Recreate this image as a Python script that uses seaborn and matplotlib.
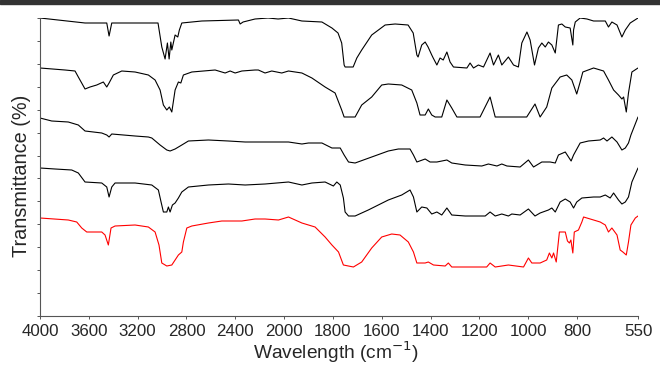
import numpy as np
import pandas as pd
import matplotlib
matplotlib.use("Agg")
import matplotlib.pyplot as plt
import seaborn as sns
from matplotlib.patches import Rectangle

# FTIR spectra, stacked top to bottom (offset transmittance, arbitrary units)
wn_a = [4000, 3631, 3453, 3434, 3412, 3033, 3002, 2975, 2956, 2942, 2928, 2920, 2893, 2871, 2858, 2838,
        2674, 2374, 2360, 2336, 2238, 2131, 2049, 1982, 1927, 1845, 1804, 1779, 1764, 1754, 1750, 1717,
        1702, 1682, 1641, 1586, 1545, 1492, 1471, 1456, 1451, 1436, 1422, 1410, 1395, 1389, 1374, 1361,
        1348, 1333, 1320, 1306, 1251, 1238, 1224, 1204, 1183, 1156, 1142, 1122, 1108, 1081, 1060, 1040,
        1026, 1005, 992, 974, 958, 944, 930, 917, 903, 889, 876, 862, 848, 828, 817, 814, 807, 787, 759,
        732, 684, 671, 657, 636, 616, 602, 582, 550]
t_a = [298, 293, 293, 280, 293, 293, 269, 257, 273, 257, 274, 266, 281, 279, 286, 293,
       295, 296, 292, 294, 297, 298, 297, 298, 295, 294, 288, 283, 273, 251, 249, 249,
       258, 266, 281, 291, 292, 291, 283, 261, 259, 271, 274, 269, 261, 258, 251, 258,
       256, 264, 254, 249, 248, 253, 248, 251, 249, 263, 251, 261, 251, 259, 251, 249,
       273, 284, 276, 251, 268, 273, 269, 274, 271, 263, 291, 292, 289, 288, 271, 286, 294, 298, 297,
       295, 295, 289, 294, 291, 279, 286, 293, 298]

wn_b = [4000, 3795, 3713, 3686, 3631, 3590, 3535, 3481, 3453, 3434, 3399, 3330, 3221, 3112, 3057, 3016,
        2989, 2961, 2940, 2920, 2893, 2866, 2846, 2825, 2756, 2565, 2483, 2442, 2401, 2346, 2238, 2211,
        2156, 2101, 2019, 1982, 1927, 1886, 1832, 1791, 1764, 1754, 1709, 1682, 1641, 1600, 1573, 1518,
        1477, 1456, 1443, 1422, 1409, 1395, 1381, 1354, 1333, 1313, 1292, 1197, 1156, 1135, 1006, 972,
        951, 924, 903, 869, 842, 821, 801, 787, 776, 732, 691, 671, 650, 630, 616, 609, 598, 589, 575, 550]
t_b = [248, 246, 245, 239, 227, 229, 231, 234, 229, 233, 241, 245, 244, 241, 236, 226,
       211, 206, 209, 204, 226, 234, 233, 241, 244, 246, 243, 245, 243, 245, 246, 246,
       243, 245, 243, 245, 243, 238, 229, 223, 206, 199, 199, 211, 219, 231, 232, 231,
       226, 213, 201, 201, 207, 201, 199, 199, 216, 208, 199, 199, 219, 199, 199, 212,
       199, 209, 228, 239, 241, 236, 222, 234, 244, 248, 245, 236, 226, 221, 217, 219, 204, 223, 244, 248]

wn_c = [4000, 3904, 3768, 3686, 3631, 3494, 3453, 3434, 3412, 3221, 3112, 3084, 3016, 2961, 2934, 2893,
        2838, 2784, 2620, 2456, 2319, 2238, 2046, 1982, 1927, 1900, 1845, 1804, 1770, 1754, 1736, 1709,
        1641, 1573, 1532, 1484, 1470, 1456, 1422, 1402, 1374, 1333, 1313, 1258, 1190, 1163, 1128, 1108,
        1087, 1033, 999, 978, 944, 910, 889, 876, 848, 824, 814, 787, 753, 705, 691, 677, 657, 636, 616,
        602, 589, 579, 550]
t_c = [198, 195, 194, 191, 185, 183, 181, 179, 182, 180, 179, 178, 171, 166, 165, 167,
       171, 175, 176, 175, 174, 174, 174, 174, 172, 173, 173, 168, 168, 161, 154, 153,
       159, 165, 167, 167, 161, 154, 157, 154, 154, 156, 153, 151, 150, 152, 150, 152,
       150, 149, 156, 149, 154, 154, 153, 161, 164, 155, 161, 173, 175, 176, 178, 175, 179, 174, 166,
       168, 173, 181, 199]

wn_d = [4000, 3877, 3740, 3686, 3631, 3494, 3453, 3434, 3412, 3385, 3221, 3084, 3030, 3008, 2989, 2961,
        2948, 2934, 2915, 2893, 2866, 2838, 2784, 2620, 2456, 2319, 2156, 1982, 1927, 1886, 1832, 1798,
        1784, 1770, 1757, 1750, 1736, 1709, 1655, 1573, 1518, 1484, 1470, 1456, 1436, 1415, 1395, 1374,
        1354, 1333, 1313, 1258, 1176, 1156, 1135, 1108, 1081, 1067, 1033, 999, 972, 951, 917, 903, 889,
        869, 848, 828, 814, 801, 780, 732, 705, 684, 664, 650, 630, 616, 602, 589, 575, 550]
t_d = [148, 147, 146, 143, 134, 133, 129, 119, 129, 133, 133, 131, 126, 114, 104, 104,
       109, 104, 111, 113, 118, 124, 129, 131, 132, 131, 132, 134, 131, 133, 134, 130,
       134, 131, 118, 104, 100, 100, 106, 116, 121, 126, 119, 104, 109, 108, 102, 104,
       101, 108, 101, 100, 100, 104, 100, 102, 100, 102, 101, 107, 100, 103, 106, 108, 104,
       114, 117, 114, 108, 114, 118, 119, 119, 121, 118, 123, 116, 112, 114, 119, 134, 148]

wn_e = [4000, 3768, 3699, 3658, 3617, 3494, 3467, 3440, 3418, 3385, 3221, 3112, 3057, 3025, 3002, 2961,
        2920, 2893, 2866, 2838, 2825, 2797, 2756, 2620, 2510, 2346, 2238, 2156, 2046, 1982, 1927, 1873,
        1832, 1804, 1777, 1757, 1716, 1682, 1641, 1600, 1559, 1525, 1491, 1470, 1456, 1422, 1409, 1388,
        1340, 1327, 1313, 1170, 1156, 1135, 1081, 1019, 999, 985, 951, 924, 913, 903, 896, 885, 872,
        848, 839, 831, 825, 817, 811, 794, 780, 773, 732, 705, 684, 671, 657, 636, 623, 612, 598, 589,
        579, 561, 550]
t_e = [98, 96, 94, 88, 84, 84, 81, 71, 88, 90, 91, 89, 84, 71, 53, 50,
       51, 56, 61, 64, 74, 88, 90, 93, 95, 95, 97, 97, 96, 99, 93, 89,
       79, 71, 64, 51, 49, 54, 68, 79, 82, 81, 74, 64, 53, 53, 54, 51,
       50, 53, 49, 49, 53, 49, 51, 49, 58, 53, 53, 56, 63, 58, 63, 54, 84,
       84, 75, 73, 76, 63, 84, 86, 94, 99, 96, 94, 91, 84, 88, 81, 66, 64, 61, 74,
       91, 98, 100]

names = ["a", "b", "c", "d", "e"]
colors = ["black", "black", "black", "black", "red"]
tick_wn = [4000, 3600, 3200, 2800, 2400, 2000, 1800, 1600, 1400, 1200, 1000, 800, 550]

frames = []
for name, wn, t in zip(names, [wn_a, wn_b, wn_c, wn_d, wn_e], [t_a, t_b, t_c, t_d, t_e]):
    frames.append(pd.DataFrame({"wn": wn, "T": t, "sample": name}))
df = pd.concat(frames, ignore_index=True)

sns.set_style("ticks")
plt.rcParams["font.family"] = ["Liberation Sans", "DejaVu Sans"]


# split wavenumber axis: 400 cm-1 per tick above 2000, 200 cm-1 per tick below
def fwd(x):
    x = np.asarray(x, dtype=float)
    return np.where(x <= 2000, x / 200.0, 10 + (x - 2000) / 400.0)


def inv(p):
    p = np.asarray(p, dtype=float)
    return np.where(p <= 10, p * 200.0, 2000 + (p - 10) * 400.0)


fig = plt.figure(figsize=(6.6, 3.67), dpi=100)
ax = fig.add_axes([40 / 660, 51 / 367, 598 / 660, 298 / 367])

sns.lineplot(data=df, x="wn", y="T", hue="sample", palette=dict(zip(names, colors)),
             estimator=None, linewidth=0.8, legend=False, ax=ax)

ax.set_xscale("function", functions=(fwd, inv))
ax.set_xlim(4000, 550)
ax.set_ylim(0, 298)
ax.set_xticks(tick_wn)
ax.set_xticklabels([str(v) for v in tick_wn])
ax.xaxis.set_minor_locator(matplotlib.ticker.NullLocator())
ax.set_yticks(np.linspace(0, 298, 14))
ax.set_yticklabels([])

for side in ["top", "right"]:
    ax.spines[side].set_visible(False)
for side in ["left", "bottom"]:
    ax.spines[side].set_color("#555555")
    ax.spines[side].set_linewidth(0.8)
ax.tick_params(axis="both", direction="out", length=2.5, width=0.7, color="#555555",
               labelsize=12.2, pad=3)

ax.set_xlabel("Wavelength (cm$^{-1}$)", fontsize=13.8)
ax.xaxis.set_label_coords(0.495, -0.078)
ax.xaxis.label.set_va("top")
ax.set_ylabel("Transmittance (%)", fontsize=14.3)
ax.yaxis.set_label_coords(-0.015, 0.47)

# dark band along the top edge of the picture
fig.patches.append(Rectangle((0, 1 - 4 / 367), 1, 4 / 367, transform=fig.transFigure,
                             color="#333333", zorder=0))

fig.savefig("out.png", dpi=100)
